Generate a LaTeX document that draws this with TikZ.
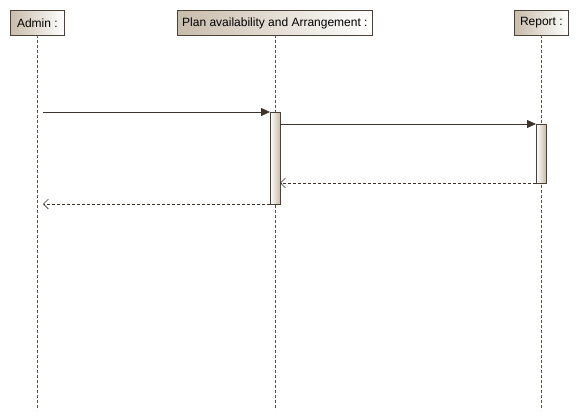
\documentclass[tikz,border=0pt]{standalone}
\usepackage{fontspec}
\setmainfont{Liberation Sans}
\usetikzlibrary{arrows.meta,shadings}
\definecolor{edge}{RGB}{75,65,55}
\definecolor{boxdark}{RGB}{200,188,170}
\definecolor{life}{RGB}{90,80,70}
\tikzset{
  x=1pt,y=-1pt,
  header/.style={draw=edge,line width=0.8pt,left color=boxdark,right color=white,
    minimum height=25pt,inner sep=2pt,anchor=north west,font=\fontsize{12}{14}\selectfont},
  lifeline/.style={draw=life,line width=0.7pt,dash pattern=on 3pt off 2pt},
  activation/.style={draw=edge,line width=0.8pt,left color=white,right color=boxdark,
    minimum width=10pt,inner sep=0pt,anchor=north},
  callmsg/.style={draw=edge!80!black,line width=0.8pt,-{Triangle[length=9pt,width=8pt]}},
  retmsg/.style={draw=edge!80!black,line width=0.7pt,dash pattern=on 3pt off 2pt,
    -{Straight Barb[length=5pt,width=10pt]}}
}
\begin{document}
\begin{tikzpicture}
\useasboundingbox (0,0) rectangle (579,420);
\fill[white] (0,0) rectangle (579,420);
% headers
\node[header,minimum width=54pt] (admin) at (10,10) {Admin :};
\node[header,minimum width=195pt] (plan) at (177,10) {Plan availability and Arrangement :};
\node[header,minimum width=54pt] (report) at (514,10) {Report :};
% lifeline ends
\coordinate (adminTop) at (37,35);
\coordinate (planTop) at (275,35);
\coordinate (reportTop) at (541,35);
\coordinate (adminEnd) at (37,410);
\coordinate (planEnd) at (275,410);
\coordinate (reportEnd) at (541,410);
\draw[lifeline] (adminTop) -- (adminEnd);
\draw[lifeline] (planTop) -- (planEnd);
\draw[lifeline] (reportTop) -- (reportEnd);
% activations
\node[activation,minimum height=92pt] (planAct) at (275,112) {};
\node[activation,minimum height=59pt] (reportAct) at (541,124) {};
% message endpoints
\coordinate (a1) at (43,112);
\coordinate (a2) at (43,204);
\coordinate (p1) at (270,112);
\coordinate (p2) at (280,124);
\coordinate (p3) at (280,183);
\coordinate (p4) at (270,204);
\coordinate (r1) at (536,124);
\coordinate (r2) at (536,183);
\draw[callmsg] (a1) -- (p1);
\draw[callmsg] (p2) -- (r1);
\draw[retmsg] (r2) -- (p3);
\draw[retmsg] (p4) -- (a2);
\end{tikzpicture}
\end{document}
